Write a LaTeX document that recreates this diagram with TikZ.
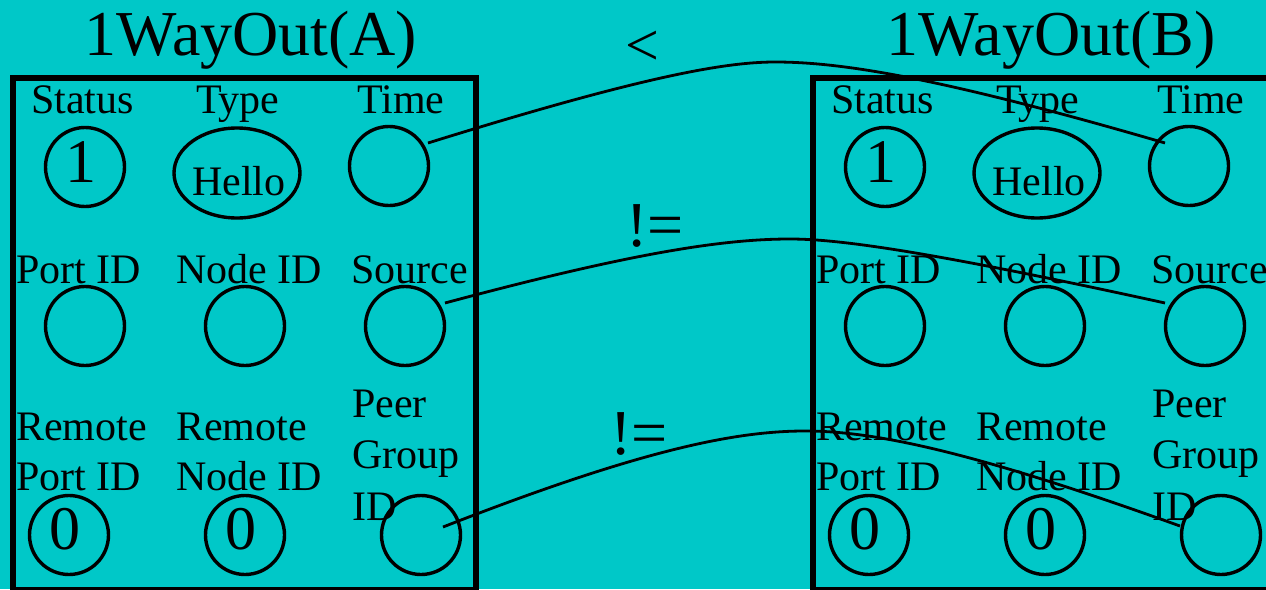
\documentclass[tikz,border=0pt]{standalone}
\usepackage{fontspec}
\setmainfont{Liberation Serif}
\usetikzlibrary{calc,shapes.geometric}
\definecolor{panelbg}{RGB}{0,200,200}

% One message panel: frame, title, field labels and field slots.
% #1 = suffix for node names, #2 = letter shown in the title
\newcommand\drawpanel[2]{%
  \draw[frame] (13,78) rectangle (476,590);
  \node[ttl] (title#1) at (251,55) {1WayOut(#2)};
  % first row
  \node[lbl] (lstatus#1) at (31,113) {Status};
  \node[lbl] (ltype#1)   at (196,113) {Type};
  \node[lbl] (ltime#1)   at (357,113) {Time};
  \node[fld] (status#1) at (85,167) {};
  \node[fldell] (type#1) at (237,173) {};
  \node[fld] (time#1)   at (389,166) {};
  \node[val] (vstatus#1) at (81,182) {1};
  \node[lbl, anchor=base] (vtype#1) at (239,195) {Hello};
  % second row
  \node[lbl] (lport#1)   at (16,283) {Port ID};
  \node[lbl] (lnode#1)   at (176,283) {Node ID};
  \node[lbl] (lsource#1) at (351,283) {Source};
  \node[fld] (port#1)   at (85,326) {};
  \node[fld] (node#1)   at (245,326) {};
  \node[fld] (source#1) at (405,326) {};
  % third row
  \node[lbl] (lrporta#1) at (16,440) {Remote};
  \node[lbl] (lrportb#1) at (16,490) {Port ID};
  \node[lbl] (lrnodea#1) at (176,440) {Remote};
  \node[lbl] (lrnodeb#1) at (176,490) {Node ID};
  \node[lbl] (lpeera#1)  at (352,417) {Peer};
  \node[lbl] (lpeerb#1)  at (352,468) {Group};
  \node[lbl] (lpeerc#1)  at (352,520) {ID};
  \node[fld] (rport#1) at (69,535) {};
  \node[fld] (rnode#1) at (245,535) {};
  \node[fld] (peer#1)  at (421,535) {};
  \node[val] (vrport#1) at (64.5,549) {0};
  \node[val] (vrnode#1) at (241,549) {0};
}

\begin{document}
\begin{tikzpicture}[x=1pt,y=-1pt,
  lbl/.style={anchor=base west, inner sep=0pt, font=\fontsize{42}{50}\selectfont},
  val/.style={anchor=base, inner sep=0pt, font=\fontsize{62}{70}\selectfont},
  ttl/.style={anchor=base, inner sep=0pt, font=\fontsize{64}{70}\selectfont},
  fld/.style={circle, draw, line width=3.4pt, minimum size=79pt, inner sep=0pt},
  fldell/.style={ellipse, draw, line width=3.4pt, minimum width=126pt,
                 minimum height=90pt, inner sep=0pt},
  frame/.style={draw, line width=5.5pt},
  link/.style={draw, line width=2.8pt},
  rel/.style={inner sep=0pt, font=\fontsize{64}{70}\selectfont}]

\useasboundingbox (0,0) rectangle (1266,589);
\fill[panelbg] (0,0) rectangle (1266,589);
\clip (0,0) rectangle (1266,589);

\drawpanel{A}{A}
\begin{scope}[xshift=800pt]
  \drawpanel{B}{B}
\end{scope}

% comparison operators
\node[rel, font=\fontsize{60}{64}\selectfont] (opTime) at (642,48.5) {<};
\node[rel, anchor=base] (opSource) at (655,246) {!=};
\node[rel, anchor=base] (opPeer) at (639,454) {!=};

% end points of the comparison links
\coordinate (s1) at ($(timeA.center)+(39,-23)$);
\coordinate (e1) at ($(timeB.center)+(-24,-23)$);
\coordinate (s2) at ($(sourceA.center)+(40,-23)$);
\coordinate (e2) at ($(sourceB.center)+(-40,-23)$);
\coordinate (s3) at ($(peerA.center)+(22,-8)$);
\coordinate (e3) at ($(peerB.center)+(-41,-9)$);

\draw[link] (s1) .. controls (637,78) and (723,62) .. (775,62)
                 .. controls (842,62) and (942,78) .. (e1);
\draw[link] (s2) .. controls (635,252) and (725,239) .. (790,239)
                 .. controls (840,239) and (932,252) .. (e2);
\draw[link] (s3) .. controls (640,450) and (735,431) .. (805,431)
                 .. controls (872,431) and (969,450) .. (e3);

\end{tikzpicture}
\end{document}
